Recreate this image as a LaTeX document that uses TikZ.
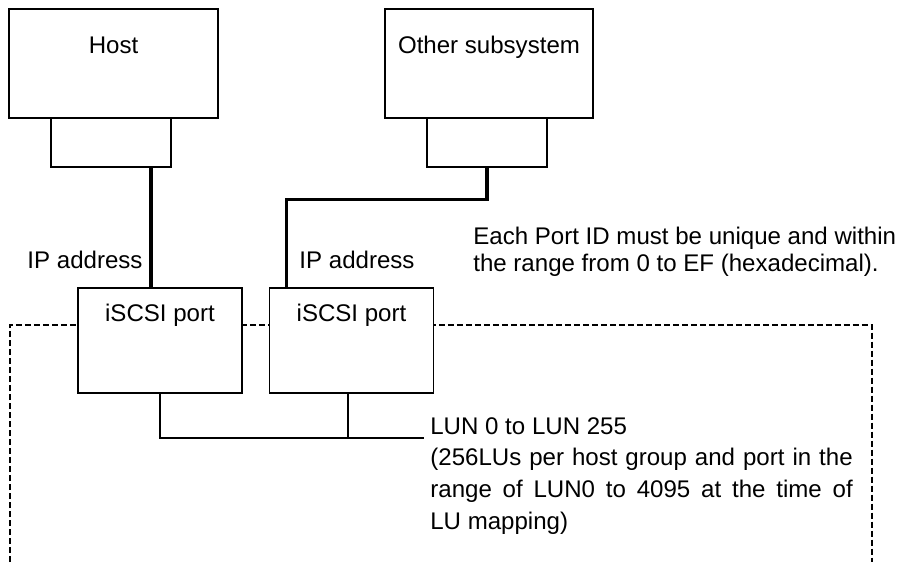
\documentclass[tikz,border=0pt]{standalone}
\usepackage{fontspec}
\setmainfont{Liberation Sans}
\usetikzlibrary{positioning}

\begin{document}
\begin{tikzpicture}[x=0.02cm,y=-0.02cm,
    font=\fontsize{13.7pt}{15.4pt}\selectfont,
    box/.style={draw,fill=white,line width=0.6pt,inner sep=0pt},
    link/.style={line width=1.8pt},
    wire/.style={line width=0.6pt},
    frame/.style={line width=0.7pt,dash pattern=on 0.12cm off 0.06cm}]
    \useasboundingbox (0,0) rectangle (900,562);

    % storage frame (runs off the bottom)
    \draw[frame] (10,562) -- (10,325) -- (872,325) -- (872,562);

    % host and other subsystem with their ports
    \node[box,minimum width=4.18cm,minimum height=2.18cm] (host) at (113.5,63.5) {};
    \node[box,minimum width=2.4cm,minimum height=0.98cm] (hostport) at (111,142.5) {};
    \node[box,minimum width=4.16cm,minimum height=2.18cm] (other) at (489,63.5) {};
    \node[box,minimum width=2.4cm,minimum height=0.98cm] (otherport) at (487,142.5) {};
    \node[anchor=base] (hosttext) at (113.5,53) {Host};
    \node[anchor=base] (othertext) at (489,53) {Other subsystem};

    % iSCSI ports of the subsystem
    \node[box,minimum width=3.28cm,minimum height=2.1cm] (port1) at (160,340.5) {};
    \node[box,minimum width=3.28cm,minimum height=2.1cm] (port2) at (351.5,340.5) {};
    \node[anchor=base] (port1text) at (160,321) {iSCSI port};
    \node[anchor=base] (port2text) at (351.5,321) {iSCSI port};

    % cables
    \draw[link] ([xshift=0.8cm]hostport.south) -- ([xshift=0.8cm]hostport.south |- port1.north);
    \draw[link] (otherport.south) -- ++(0,32) -| ([xshift=-1.3cm]port2.north);
    \node[anchor=base] (ip1) at (85,268) {IP address};
    \node[anchor=base] (ip2) at (357,268) {IP address};

    % LUN bracket
    \coordinate (lunend) at (424,438);
    \draw[wire] (port1.south) |- (lunend);
    \draw[wire] ([xshift=-0.07cm]port2.south) -- ([xshift=-0.07cm]port2.south |- lunend);

    % notes
    \node[anchor=north west,inner sep=0pt,align=left] (portid) at (473,227)
        {Each Port ID must be unique and within\\the range from 0 to EF (hexadecimal).};
    \node[anchor=north west,inner sep=0pt,text width=8.45cm,align=justify,
          font=\fontsize{13.7pt}{18pt}\selectfont] (lunnote) at (430,417)
        {LUN 0 to LUN 255\\(256LUs per host group and port in the\linebreak
         range of LUN0 to 4095 at the time of\linebreak LU mapping)};
\end{tikzpicture}
\end{document}
